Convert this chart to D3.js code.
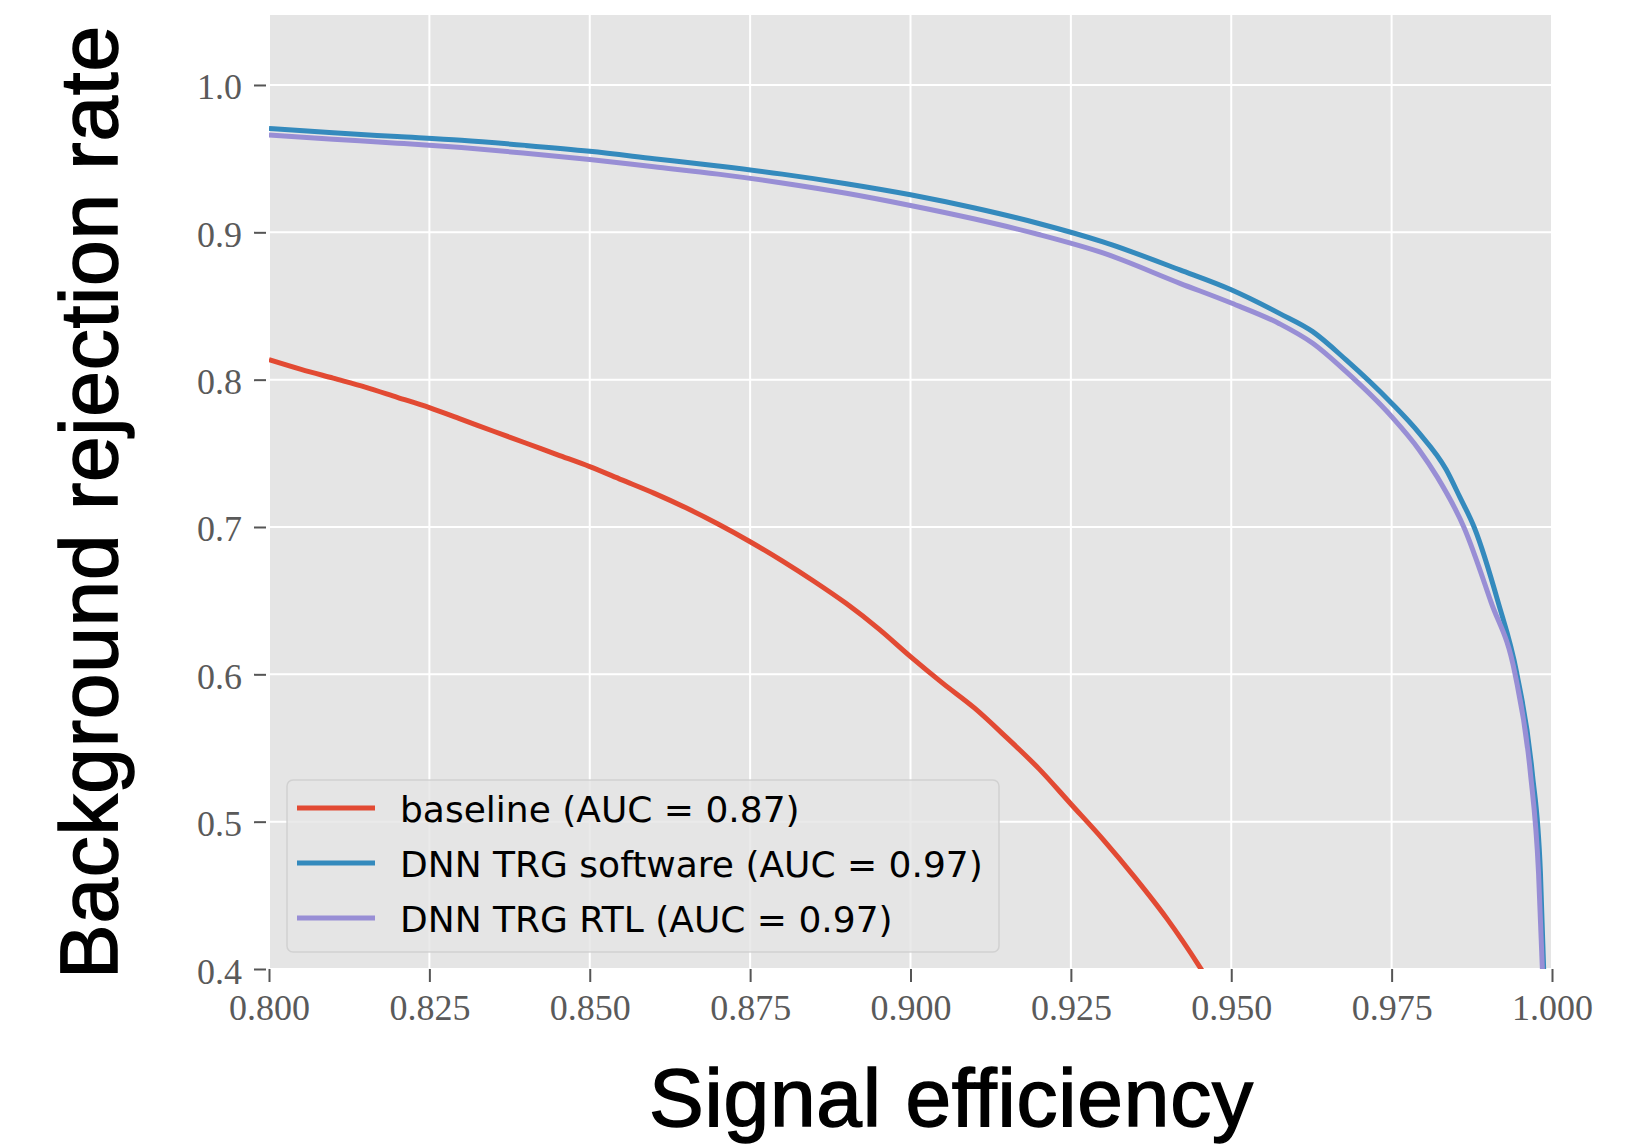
<!DOCTYPE html>
<html>
<head>
<meta charset="utf-8">
<script src="https://cdn.jsdelivr.net/npm/d3@7"></script>
<style>
  html, body { margin: 0; padding: 0; background: #fff; }
  svg { display: block; }
</style>
</head>
<body>
<div id="wrapper"></div>
<script>
// ROC curves
const baselineX = [0.800, 0.805, 0.810, 0.815, 0.820, 0.825, 0.830, 0.835, 0.840, 0.845, 0.850, 0.855, 0.860, 0.865, 0.870, 0.875, 0.880, 0.885, 0.890, 0.895, 0.900, 0.905, 0.910, 0.915, 0.920, 0.925, 0.930, 0.935, 0.940, 0.945, 0.948];
const baselineY = [0.8136, 0.807, 0.801, 0.795, 0.788, 0.781, 0.773, 0.765, 0.757, 0.749, 0.741, 0.732, 0.723, 0.713, 0.702, 0.690, 0.677, 0.663, 0.648, 0.631, 0.612, 0.594, 0.577, 0.557, 0.536, 0.512, 0.488, 0.462, 0.434, 0.402, 0.381];

const softwareX = [0.800, 0.810, 0.820, 0.830, 0.840, 0.850, 0.860, 0.870, 0.880, 0.890, 0.900, 0.910, 0.920, 0.930, 0.942, 0.950, 0.9575, 0.9627, 0.9679, 0.975, 0.9793, 0.9835, 0.9856, 0.9879, 0.9916, 0.9945, 0.9969, 0.9982, 0.9987];
const softwareY = [0.9705, 0.9675, 0.9650, 0.9625, 0.9590, 0.9550, 0.9500, 0.9450, 0.9395, 0.9330, 0.9255, 0.9165, 0.9060, 0.8935, 0.8745, 0.861, 0.845, 0.8326, 0.8134, 0.784, 0.7637, 0.739, 0.7206, 0.6995, 0.649, 0.601, 0.534, 0.465, 0.400];

const rtlX = [0.800, 0.810, 0.820, 0.830, 0.840, 0.850, 0.860, 0.870, 0.880, 0.890, 0.900, 0.910, 0.920, 0.930, 0.942, 0.950, 0.9575, 0.9627, 0.9679, 0.975, 0.9793, 0.9821, 0.9863, 0.9905, 0.9942, 0.9966, 0.9979, 0.9985];
const rtlY = [0.9660, 0.9632, 0.9605, 0.9575, 0.9537, 0.9495, 0.9445, 0.9395, 0.9335, 0.9265, 0.9182, 0.9090, 0.8985, 0.8860, 0.8654, 0.852, 0.838, 0.8247, 0.8054, 0.7749, 0.7523, 0.734, 0.6995, 0.649, 0.601, 0.5344, 0.4654, 0.400];

const seriesNames = ['baseline (AUC = 0.87)', 'DNN TRG software (AUC = 0.97)', 'DNN TRG RTL (AUC = 0.97)'];
const seriesColors = ['#E24A33', '#348ABD', '#988ED5'];

const xTicks = [0.800, 0.825, 0.850, 0.875, 0.900, 0.925, 0.950, 0.975, 1.000];
const yTicks = [0.4, 0.5, 0.6, 0.7, 0.8, 0.9, 1.0];

const xLabel = 'Signal efficiency';
const yLabel = 'Background rejection rate';

const series = [
    { name: seriesNames[0], color: seriesColors[0], values: baselineX.map((x, i) => ({ x, y: baselineY[i] })) },
    { name: seriesNames[1], color: seriesColors[1], values: softwareX.map((x, i) => ({ x, y: softwareY[i] })) },
    { name: seriesNames[2], color: seriesColors[2], values: rtlX.map((x, i) => ({ x, y: rtlY[i] })) }
];

const dimensions = {
    width: 1649,
    height: 1145,
    plot: { left: 269, right: 1552, top: 15, bottom: 969 }
};

const svg = d3.select('#wrapper')
    .append('svg')
    .attr('width', dimensions.width)
    .attr('height', dimensions.height);

const p = dimensions.plot;

const xScale = d3.scaleLinear()
    .domain([0.8, 1.0])
    .range([p.left, p.right]);

const yScale = d3.scaleLinear()
    .domain([0.4, 1.0475])
    .range([p.bottom, p.top]);

// panel
svg.append('rect')
    .attr('x', p.left)
    .attr('y', p.top)
    .attr('width', p.right - p.left)
    .attr('height', p.bottom - p.top)
    .attr('fill', '#E5E5E5');

// grid
const grid = svg.append('g');
grid.selectAll('.vgrid')
    .data(xTicks)
    .join('line')
    .attr('x1', d => xScale(d))
    .attr('x2', d => xScale(d))
    .attr('y1', p.top)
    .attr('y2', p.bottom)
    .attr('stroke', '#fff')
    .attr('stroke-width', 2);
grid.selectAll('.hgrid')
    .data(yTicks)
    .join('line')
    .attr('x1', p.left)
    .attr('x2', p.right)
    .attr('y1', d => yScale(d))
    .attr('y2', d => yScale(d))
    .attr('stroke', '#fff')
    .attr('stroke-width', 2);

// axes
const xAxis = svg.append('g')
    .attr('transform', `translate(0, ${p.bottom})`)
    .call(d3.axisBottom(xScale).tickValues(xTicks).tickFormat(d3.format('.3f')).tickSize(13));

const yAxis = svg.append('g')
    .attr('transform', `translate(${p.left - 3}, 0)`)
    .call(d3.axisLeft(yScale).tickValues(yTicks).tickFormat(d3.format('.1f')).tickSize(12));

[xAxis, yAxis].forEach(a => {
    a.select('.domain').remove();
    a.selectAll('.tick line').attr('stroke', '#555').attr('stroke-width', 2);
    a.selectAll('.tick text')
        .attr('fill', '#5a5a5a')
        .style('font-family', '"Liberation Serif", "DejaVu Serif", serif')
        .style('font-size', '36px');
});
xAxis.selectAll('.tick text').attr('y', 51).attr('dy', 0);
yAxis.selectAll('.tick text').attr('x', -24).attr('dy', 14);

// curves
svg.append('clipPath')
    .attr('id', 'plot-clip')
    .append('rect')
    .attr('x', p.left)
    .attr('y', p.top)
    .attr('width', p.right - p.left)
    .attr('height', p.bottom - p.top);

const lineGenerator = d3.line()
    .x(d => xScale(d.x))
    .y(d => yScale(d.y))
    .curve(d3.curveMonotoneX);

svg.append('g')
    .attr('clip-path', 'url(#plot-clip)')
    .selectAll('path')
    .data(series)
    .join('path')
    .attr('d', d => lineGenerator(d.values))
    .attr('fill', 'none')
    .attr('stroke', d => d.color)
    .attr('stroke-width', 5)
    .attr('stroke-linejoin', 'round');

// legend
const legend = svg.append('g');
legend.append('rect')
    .attr('x', 287)
    .attr('y', 780)
    .attr('width', 712)
    .attr('height', 172)
    .attr('rx', 6)
    .attr('fill', '#E5E5E5')
    .attr('fill-opacity', 0.8)
    .attr('stroke', '#CCCCCC')
    .attr('stroke-opacity', 0.8)
    .attr('stroke-width', 1.5);

const rows = legend.selectAll('.row')
    .data(series)
    .join('g')
    .attr('transform', (d, i) => `translate(0, ${808 + i * 55})`);
rows.append('line')
    .attr('x1', 297)
    .attr('x2', 375)
    .attr('stroke', d => d.color)
    .attr('stroke-width', 5);
rows.append('text')
    .attr('x', 400)
    .attr('y', 13.5)
    .text(d => d.name)
    .style('font-family', '"DejaVu Sans", sans-serif')
    .style('font-size', '36px')
    .attr('fill', '#000');

// axis titles
svg.append('text')
    .attr('x', 649)
    .attr('y', 1126)
    .attr('textLength', 604)
    .attr('lengthAdjust', 'spacing')
    .text(xLabel)
    .style('font-family', '"Liberation Sans", Arial, sans-serif')
    .style('font-size', '82px')
    .attr('fill', '#000')
    .attr('stroke', '#000')
    .attr('stroke-width', 1.5);

svg.append('text')
    .attr('transform', 'translate(117, 979) rotate(-90)')
    .attr('textLength', 953)
    .attr('lengthAdjust', 'spacing')
    .text(yLabel)
    .style('font-family', '"Liberation Sans", Arial, sans-serif')
    .style('font-size', '82px')
    .attr('fill', '#000')
    .attr('stroke', '#000')
    .attr('stroke-width', 1.5);
</script>
</body>
</html>
